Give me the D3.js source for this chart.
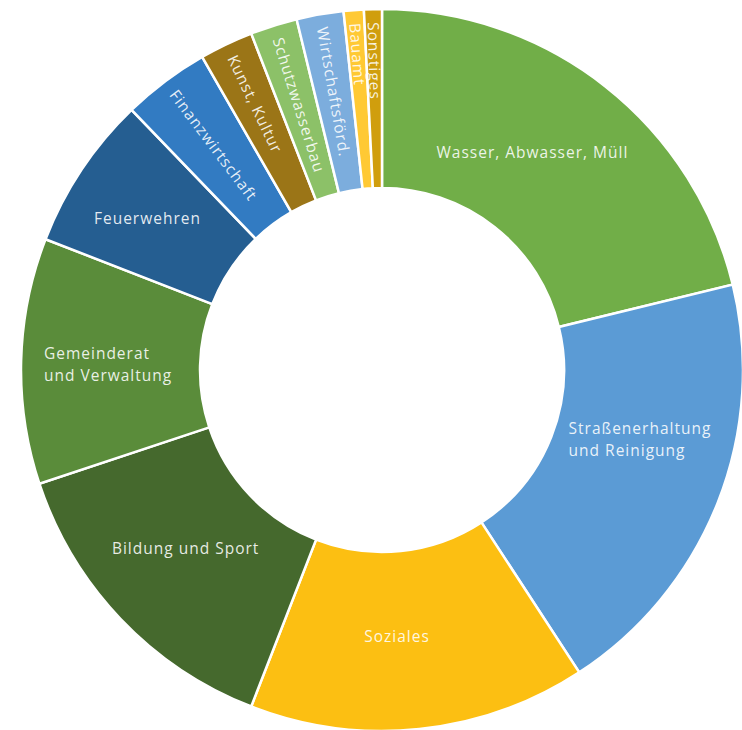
<!DOCTYPE html>
<html>
<head>
<meta charset="utf-8">
<script src="https://cdn.jsdelivr.net/npm/d3@7"></script>
<style>
  html, body { margin: 0; padding: 0; background: #fff; overflow: hidden; }
  svg { display: block; }
  .lbl { font-family: "Open Sans", sans-serif; font-size: 15.5px; letter-spacing: 1px; fill: #fff; fill-opacity: 0.88; }
</style>
</head>
<body>
<svg id="chart" width="742" height="730"></svg>
<script>
// Daten (Anteile in %, im Uhrzeigersinn ab 12 Uhr)
var categories = ["Wasser, Abwasser, Müll", "Straßenerhaltung\nund Reinigung", "Soziales", "Bildung und Sport",
  "Gemeinderat\nund Verwaltung", "Feuerwehren", "Finanzwirtschaft", "Kunst, Kultur", "Schutzwasserbau",
  "Wirtschaftsförd.", "Bauamt", "Sonstiges"];
var values = [21.2, 19.6, 15.1, 14.0, 11.0, 6.9, 3.9, 2.4, 2.1, 2.1, 0.9, 0.8];
var colors = ["#71ae48", "#5b9bd5", "#fcbf12", "#45692d", "#5a8c3a", "#255e91", "#327bc2", "#9b7517",
  "#8cc168", "#7caddd", "#ffc934", "#d09e0d"];

var width = 742, height = 730;
var cx = 382, cy = 370;
var innerRadius = 182, outerRadius = 361;

var svg = d3.select("#chart");
var g = svg.append("g").attr("transform", "translate(" + cx + "," + cy + ")");

var pie = d3.pie().sort(null).value(function(d) { return d; });
var arcs = pie(values);
var arc = d3.arc().innerRadius(innerRadius).outerRadius(outerRadius);
var labelArc = d3.arc().innerRadius(271).outerRadius(271);

g.selectAll("path.slice").data(arcs).enter().append("path")
  .attr("class", "slice")
  .attr("d", arc)
  .style("fill", function(d, i) { return colors[i]; })
  .style("stroke", "#fff")
  .style("stroke-width", 2.5)
  .style("stroke-linejoin", "miter");

// kleine Feinkorrekturen der Beschriftungen (Pixel)
var nudge = { 0: [-17, -4], 1: [6, -30], 2: [-13, -3], 3: [0, -8], 4: [-3, 1], 5: [-9, -1] };

arcs.forEach(function(d, i) {
  var mid = (d.startAngle + d.endAngle) / 2;
  var lines = categories[i].split("\n");
  if (d.endAngle - d.startAngle < 0.3) {
    // schmale Segmente: radial gedrehte Beschriftung
    var r = 348;
    var x = Math.sin(mid) * r, y = -Math.cos(mid) * r;
    var rot = mid * 180 / Math.PI - 270;
    g.append("text").attr("class", "lbl")
      .attr("transform", "translate(" + x + "," + y + ") rotate(" + rot + ")")
      .attr("dy", "0.35em")
      .style("text-anchor", "start")
      .text(categories[i]);
  } else {
    var c = labelArc.centroid(d);
    var n = nudge[i] || [0, 0];
    var t = g.append("text").attr("class", "lbl");
    var lh = 22;
    lines.forEach(function(l, k) {
      t.append("tspan").attr("x", 0).attr("y", (k - (lines.length - 1) / 2) * lh).attr("dy", "0.35em").text(l);
    });
    var w = t.node().getBBox().width;
    t.attr("transform", "translate(" + (c[0] + n[0] - w / 2) + "," + (c[1] + n[1]) + ")");
  }
});
</script>
</body>
</html>
